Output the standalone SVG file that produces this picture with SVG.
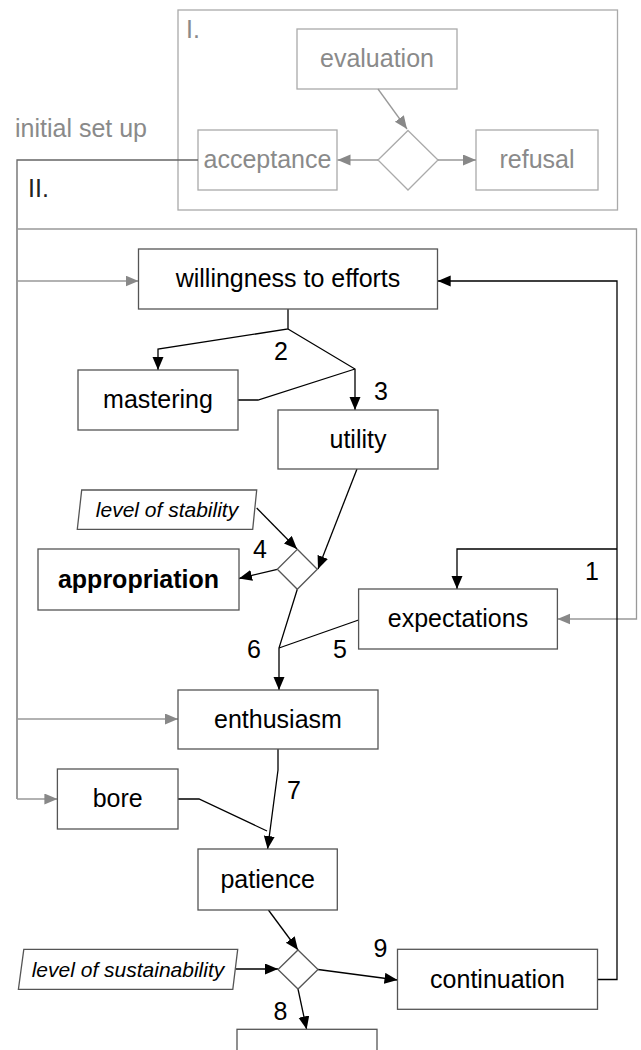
<svg xmlns="http://www.w3.org/2000/svg" width="641" height="1050" viewBox="0 0 641 1050">
<style>
text{font-family:"Liberation Sans",Arial,sans-serif;font-size:25px;fill:#000}
.g1 rect,.g1 polygon{fill:#fff;stroke:#aaa;stroke-width:1.3}
.g1 text{fill:#8a8a8a}
.n rect{fill:#fff;stroke:#555;stroke-width:1.3}
.n polygon{fill:#fff;stroke:#555;stroke-width:1.3}
.it{font-style:italic;font-size:21px}
.c{text-anchor:middle}
.k{fill:none;stroke:#000;stroke-width:1.3}
.gk{fill:none;stroke:#999;stroke-width:1.3}
.dk{fill:none;stroke:#666;stroke-width:1.3}
</style>
<defs>
<marker id="ab" markerUnits="userSpaceOnUse" markerWidth="14" markerHeight="12" refX="13" refY="5.5" orient="auto"><path d="M0,0 L13,5.5 L0,11 z" fill="#000"/></marker>
<marker id="ag" markerUnits="userSpaceOnUse" markerWidth="14" markerHeight="12" refX="13" refY="5.5" orient="auto"><path d="M0,0 L13,5.5 L0,11 z" fill="#888"/></marker>
</defs>

<g id="groupI" class="g1">
<rect x="178" y="10" width="439.5" height="200"/>
<text x="186" y="38">I.</text>
</g>
<g id="evaluation" class="g1"><rect x="297" y="29" width="160" height="60"/><text class="c" x="377" y="67">evaluation</text></g>
<g id="decision1" class="g1"><polygon points="408,130.5 438,160 408,190 378,160"/></g>
<g id="acceptance" class="g1"><rect x="198" y="130" width="139" height="60"/><text class="c" x="267.5" y="168">acceptance</text></g>
<g id="refusal" class="g1"><rect x="476" y="130" width="122" height="60"/><text class="c" x="537" y="168">refusal</text></g>
<g id="labels">
<text x="15" y="137" fill="#8a8a8a" style="fill:#8a8a8a">initial set up</text>
<text x="28" y="197" style="fill:#222">II.</text>
</g>

<g id="connectors">
<path class="gk" d="M378,89 L407,129" marker-end="url(#ag)"/>
<path class="gk" d="M378,160 L337.5,160" marker-end="url(#ag)"/>
<path class="gk" d="M438,160 L476,160" marker-end="url(#ag)"/>
<path class="dk" d="M198,160 L17,160 L17,799"/>
<path class="gk" d="M17,799 L57.4,799" marker-end="url(#ag)"/>
<path class="gk" d="M17,281 L138.5,281" marker-end="url(#ag)"/>
<path class="gk" d="M17,719 L178,719" marker-end="url(#ag)"/>
<path class="gk" d="M17,229 L636.5,229 L636.5,619 L557.4,619" marker-end="url(#ag)"/>

<path class="k" d="M597.5,979.5 L617,979.5 L617,281 L437.7,281" marker-end="url(#ab)"/>
<path class="k" d="M617,549 L457,549 L457,589" marker-end="url(#ab)"/>
<path class="k" d="M288,309 L288,329 L158,349 L158,370" marker-end="url(#ab)"/>
<path class="k" d="M288,329 L355,369 L355,410" marker-end="url(#ab)"/>
<path class="k" d="M238,400 L258,400 L355,369"/>
<path class="k" d="M357,469 L318,569" marker-end="url(#ab)"/>
<path class="k" d="M256.7,508 L297,549" marker-end="url(#ab)"/>
<path class="k" d="M277.3,569.3 L239,578.5" marker-end="url(#ab)"/>
<path class="k" d="M297.3,589.3 L279,648 L279,690" marker-end="url(#ab)"/>
<path class="k" d="M358.6,620 L279,648"/>
<path class="k" d="M278,749 L278,770 L267.6,849" marker-end="url(#ab)"/>
<path class="k" d="M178,799 L199,799 L267,831"/>
<path class="k" d="M268.4,910 L298,950" marker-end="url(#ab)"/>
<path class="k" d="M235.7,969 L278,969" marker-end="url(#ab)"/>
<path class="k" d="M318,969.5 L397.5,980" marker-end="url(#ab)"/>
<path class="k" d="M298,989 L306.6,1029.3" marker-end="url(#ab)"/>
</g>

<g id="numbers">
<text class="c" x="281" y="360">2</text>
<text class="c" x="381" y="400">3</text>
<text class="c" x="260" y="558">4</text>
<text class="c" x="592" y="580">1</text>
<text class="c" x="254" y="658">6</text>
<text class="c" x="340" y="658">5</text>
<text class="c" x="294" y="799">7</text>
<text class="c" x="380.5" y="957">9</text>
<text class="c" x="280.5" y="1020">8</text>
</g>

<g id="willingness" class="n"><rect x="138.5" y="249" width="299" height="60"/><text class="c" x="288" y="287">willingness to efforts</text></g>
<g id="mastering" class="n"><rect x="78" y="370" width="160" height="60"/><text class="c" x="158" y="408">mastering</text></g>
<g id="utility" class="n"><rect x="278" y="410" width="160" height="59"/><text class="c" x="358" y="448">utility</text></g>
<g id="stability" class="n"><polygon points="81.7,490 256.7,490 252.7,529.3 77.3,529.3"/><text class="c it" x="167" y="517">level of stability</text></g>
<g id="decision2" class="n"><polygon points="297.3,549.3 317.3,569.3 297.3,589.3 277.3,569.3"/></g>
<g id="appropriation" class="n"><rect x="38" y="549" width="201" height="61"/><text class="c" x="138.5" y="588" font-weight="bold">appropriation</text></g>
<g id="expectations" class="n"><rect x="358.6" y="589" width="198.8" height="60"/><text class="c" x="458" y="627">expectations</text></g>
<g id="enthusiasm" class="n"><rect x="178" y="690" width="200" height="59"/><text class="c" x="278" y="728">enthusiasm</text></g>
<g id="bore" class="n"><rect x="57.4" y="769" width="120.6" height="60"/><text class="c" x="117.7" y="807">bore</text></g>
<g id="patience" class="n"><rect x="198" y="849" width="139.3" height="61"/><text class="c" x="267.7" y="888">patience</text></g>
<g id="sustainability" class="n"><polygon points="23.8,949.3 237.7,949.3 232.8,989.3 18.4,989.3"/><text class="c it" x="128" y="977">level of sustainability</text></g>
<g id="decision3" class="n"><polygon points="298,950 318,969.5 298,989 278,969.5"/></g>
<g id="continuation" class="n"><rect x="397.5" y="949.3" width="200" height="60"/><text class="c" x="497.5" y="988">continuation</text></g>
<g id="outcome8" class="n"><rect x="237" y="1029.3" width="140" height="60"/></g>
</svg>
